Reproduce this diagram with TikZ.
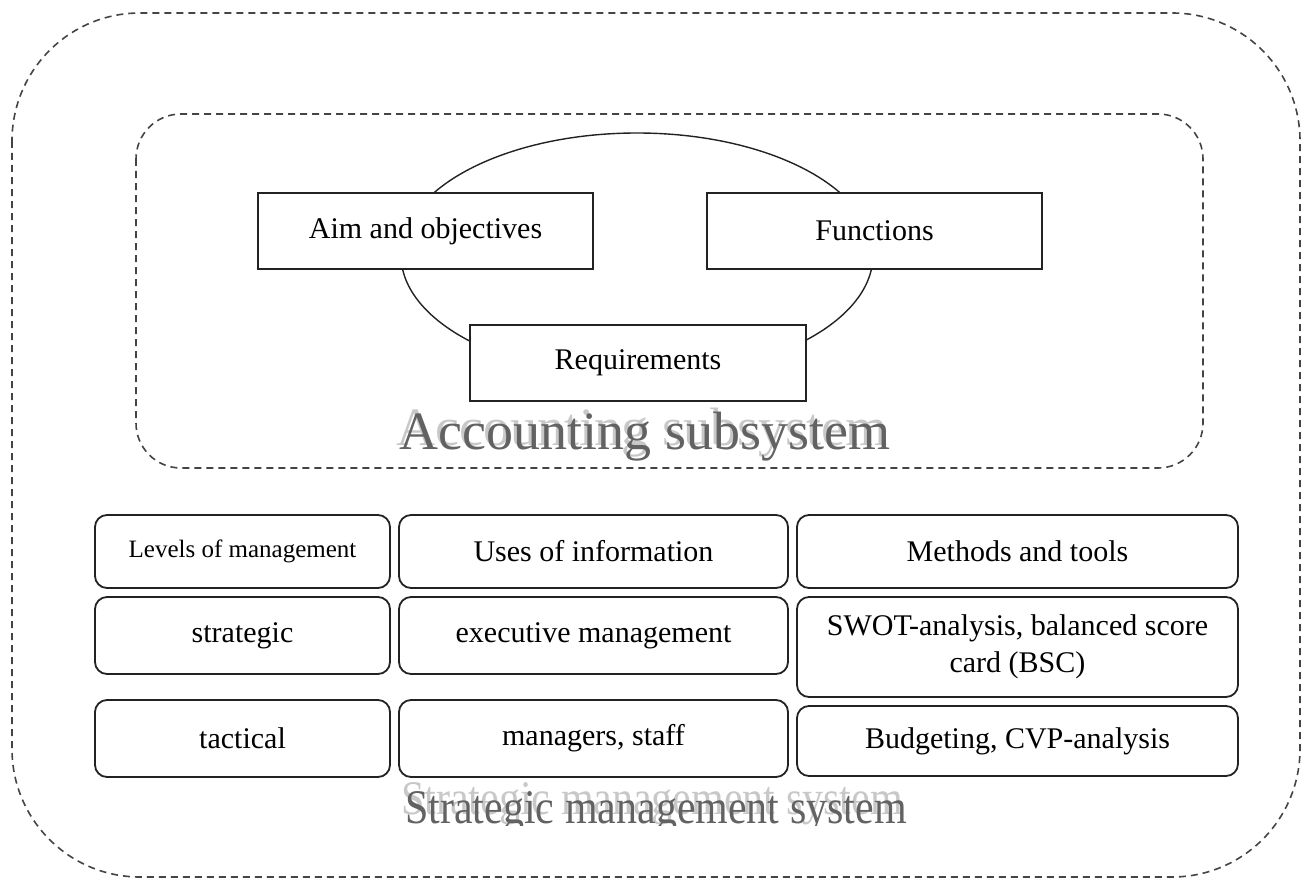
\documentclass[tikz,border=0pt]{standalone}
\usepackage{fontspec}
\setmainfont{Liberation Serif}
\usetikzlibrary{shapes.geometric}
\definecolor{framegray}{HTML}{444444}
\definecolor{boxline}{HTML}{222222}
\definecolor{titlegray}{HTML}{626262}
\definecolor{ghostgray}{HTML}{C8C8C8}
\newcommand{\shadowtext}[3]{\makebox[0pt][l]{\hspace*{-#1}\raisebox{#2}{\textcolor{ghostgray}{#3}}}\textcolor{titlegray}{#3}}
\tikzset{
  dashframe/.style={draw=framegray, line width=1.6pt, dash pattern=on 7pt off 5pt},
  sqbox/.style={draw=boxline, fill=white, line width=1.8pt, inner sep=0pt, align=center,
    font=\fontsize{30}{36}\selectfont},
  rbox/.style={draw=boxline, fill=white, line width=1.8pt, rounded corners=12pt, inner sep=0pt,
    align=center, font=\fontsize{30}{37}\selectfont},
  ring/.style={draw=boxline, ellipse, line width=1.4pt, inner sep=0pt},
  titletext/.style={anchor=base, inner sep=0pt}
}
\begin{document}
\begin{tikzpicture}[x=1pt,y=-1pt]
\useasboundingbox (0,0) rectangle (1312,880);
% outer and inner dashed frames
\draw[dashframe, rounded corners=128pt] (12,13) rectangle (1300,877);
\draw[dashframe, rounded corners=45pt] (136,114) rectangle (1203,468);
% ellipse behind the three boxes
\node[ring, minimum width=472pt, minimum height=244pt] (cycle) at (637,255) {};
% accounting subsystem boxes
\node[sqbox, minimum width=335pt, minimum height=76pt] (aim) at (425.5,231) {Aim and objectives};
\node[sqbox, minimum width=335pt, minimum height=76pt] (fun) at (874.5,231) {Functions};
\node[sqbox, minimum width=336pt, minimum height=76pt] (req) at (638,363) {Requirements};
% accounting subsystem title with shadow
\node[titletext, font=\fontsize{54}{60}\selectfont] (acc) at (645,449) {\shadowtext{3pt}{4pt}{Accounting subsystem}};
% strategic management grid
\node[rbox, minimum width=295pt, minimum height=73pt, font=\fontsize{25}{30}\selectfont] (lev) at (242.5,551.5) {Levels of management};
\node[rbox, minimum width=389pt, minimum height=73pt] (use) at (593.5,551.5) {Uses of information};
\node[rbox, minimum width=441pt, minimum height=73pt] (met) at (1017.5,551.5) {Methods and tools};
\node[rbox, minimum width=295pt, minimum height=77pt] (str) at (242.5,635.5) {strategic};
\node[rbox, minimum width=389pt, minimum height=77pt] (exe) at (593.5,635.5) {executive management};
\node[rbox, minimum width=441pt, minimum height=100pt] (swot) at (1017.5,647) {SWOT-analysis, balanced score\\card (BSC)};
\node[rbox, minimum width=295pt, minimum height=77pt] (tac) at (242.5,738.5) {tactical};
\node[rbox, minimum width=389pt, minimum height=77pt] (man) at (593.5,738.5) {managers, staff};
\node[rbox, minimum width=441pt, minimum height=70pt] (bud) at (1017.5,741) {Budgeting, CVP-analysis};
% strategic management system title, clipped at the bottom
\begin{scope}
\clip (300,780) rectangle (1000,825);
\node[titletext, font=\fontsize{42}{48}\selectfont] (sms) at (656,823) {\scalebox{1}[1.15]{\shadowtext{4pt}{7pt}{Strategic management system}}};
\end{scope}
\end{tikzpicture}
\end{document}
